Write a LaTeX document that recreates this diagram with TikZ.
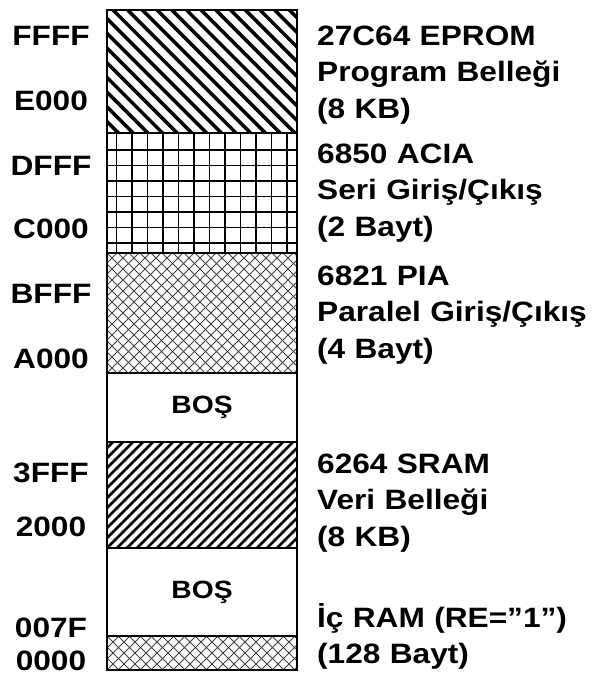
\documentclass[tikz,border=0pt]{standalone}
\usepackage{fontspec}
\setmainfont{Liberation Sans}[FakeStretch=1.13]
\usetikzlibrary{positioning}

\tikzset{
  band/.style={draw, line width=1.2pt, minimum width=190pt, inner sep=0pt, outer sep=0pt},
  addr/.style={anchor=base, font=\bfseries\fontsize{28}{30}\selectfont},
  desc/.style={anchor=base west, inner sep=0pt, text width=280pt, align=left,
               font=\bfseries\fontsize{28}{36.5}\selectfont},
  bos/.style={font=\bfseries\fontsize{25}{27}\selectfont},
  stripesdown/.style={path picture={
      \foreach \k in {-9,...,13}
        \draw[line width=3.5pt] ([xshift=\k*14.7pt+6pt]path picture bounding box.north west) -- ++(140pt,-140pt);
  }},
  stripesup/.style={path picture={
      \foreach \k in {-11,...,19}
        \draw[line width=2.8pt] ([xshift=\k*10pt]path picture bounding box.south west) -- ++(115pt,115pt);
  }},
  checks/.style={path picture={
      \foreach \k in {1,...,12}
        \draw[line width=1.6pt] ([xshift=\k*15.5pt-6pt]path picture bounding box.north west) -- ++(0,-130pt);
      \foreach \k in {1,...,7}
        \draw[line width=1.6pt] ([yshift={-\k*15.5pt-1.5pt}]path picture bounding box.north west) -- ++(200pt,0);
  }},
  crosshatch/.style={path picture={
      \foreach \k in {-13,...,19}{
        \draw[line width=0.8pt, black!75] ([xshift=\k*11pt]path picture bounding box.north west) -- ++(130pt,-130pt);
        \draw[line width=0.8pt, black!75] ([xshift=\k*11pt]path picture bounding box.south west) -- ++(130pt,130pt);
      }
  }},
}

\begin{document}
\begin{tikzpicture}[x=1pt,y=1pt]
  \useasboundingbox (0,0) rectangle (592,-675);

  % memory map column
  \node[band, stripesdown, minimum height=123pt, anchor=north west] (eprom) at (107,-10) {};
  \node[band, checks, minimum height=120pt, below=0pt of eprom] (acia) {};
  \node[band, crosshatch, minimum height=120pt, below=0pt of acia] (pia) {};
  \node[band, bos, minimum height=69pt, below=0pt of pia] (bosa) {BOŞ};
  \node[band, stripesup, minimum height=106pt, below=0pt of bosa] (sram) {};
  \node[band, bos, minimum height=88pt, below=0pt of sram] (bosb) {BOŞ};
  \node[band, crosshatch, minimum height=34pt, below=0pt of bosb] (iram) {};

  % addresses
  \node[addr] (adrFFFF) at (51,-45) {FFFF};
  \node[addr] (adrE000) at (51,-110) {E000};
  \node[addr] (adrDFFF) at (51,-175) {DFFF};
  \node[addr] (adrC000) at (51,-238) {C000};
  \node[addr] (adrBFFF) at (51,-303) {BFFF};
  \node[addr] (adrA000) at (51,-368) {A000};
  \node[addr] (adr3FFF) at (51,-482) {3FFF};
  \node[addr] (adr2000) at (51,-536) {2000};
  \node[addr] (adr007F) at (51,-637) {007F};
  \node[addr] (adr0000) at (51,-670) {0000};

  % devices
  \node[desc] (epromtxt) at (317,-45) {27C64 EPROM\\Program Belleği\\(8 KB)};
  \node[desc] (aciatxt) at (317,-163) {6850 ACIA\\Seri Giriş/Çıkış\\(2 Bayt)};
  \node[desc] (piatxt) at (317,-285) {6821 PIA\\Paralel Giriş/Çıkış\\(4 Bayt)};
  \node[desc] (sramtxt) at (317,-473) {6264 SRAM\\Veri Belleği\\(8 KB)};
  \node[desc] (iramtxt) at (317,-627) {İç RAM (RE=”1”)\\(128 Bayt)};
\end{tikzpicture}
\end{document}
